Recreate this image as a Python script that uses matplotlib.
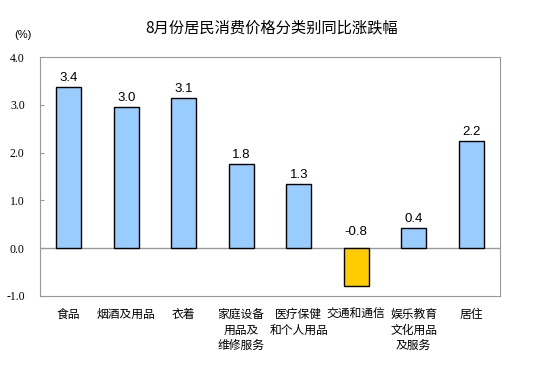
import matplotlib
matplotlib.use("Agg")
import matplotlib.pyplot as plt

plt.rcParams['font.family'] = ['Noto Sans CJK SC', 'DejaVu Sans']

categories = ["食品", "烟酒及用品", "衣着", "家庭设备\n用品及\n维修服务", "医疗保健\n和个人用品",
              "交通和通信", "娱乐教育\n文化用品\n及服务", "居住"]
values = [3.37, 2.95, 3.14, 1.76, 1.34, -0.8, 0.42, 2.24]
value_labels = ["3.4", "3.0", "3.1", "1.8", "1.3", "-0.8", "0.4", "2.2"]
yticks = [-1.0, 0.0, 1.0, 2.0, 3.0, 4.0]

fig = plt.figure(figsize=(5.44, 3.67), dpi=100)
ax = fig.add_axes([0.0735, 0.1935, 0.8455, 0.651])

colors = ["#99ccff" if v >= 0 else "#ffcc00" for v in values]
x = range(len(values))
ax.bar(x, values, width=0.43, color=colors, edgecolor="black", linewidth=1.0, zorder=3)

# 數值標籤：負值放在零線上方
for i, (v, lab) in enumerate(zip(values, value_labels)):
    ypos = v + 0.07 if v >= 0 else 0.22
    ax.text(i, ypos, lab, ha="center", va="bottom", fontsize=9.5, family=["Liberation Sans"])

ax.axhline(0, color="#999999", linewidth=1.0, zorder=2)
ax.set_xlim(-0.5, len(values) - 0.5)
ax.set_ylim(-1.0, 4.0)
ax.set_yticks(yticks)
ax.set_yticklabels([f"{t:.1f}" for t in yticks], fontsize=8.5, family=["Liberation Serif"])
ax.set_xticks([])
for s in ax.spines.values():
    s.set_color("#999999")
ax.tick_params(axis="y", direction="in", length=3, color="#999999", pad=11)

for i, c in enumerate(categories):
    ax.text(i, -1.25, c, ha="center", va="top", fontsize=8.5, linespacing=1.25)

fig.text(0.5, 0.925, "8月份居民消费价格分类别同比涨跌幅", ha="center", va="center", fontsize=11)
fig.text(0.042, 0.905, "(%)", ha="center", va="center", fontsize=8, family=["Liberation Sans"])

fig.savefig("out.png", dpi=100)
